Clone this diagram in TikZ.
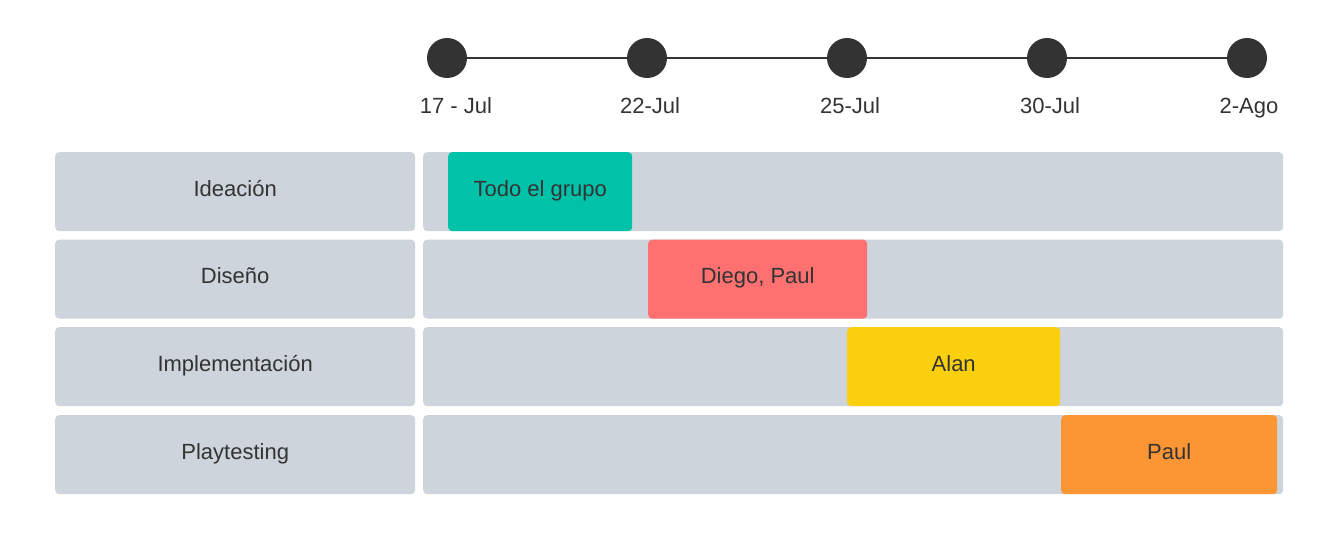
\documentclass[tikz,border=0pt]{standalone}
\usepackage{fontspec}
\setmainfont{Liberation Sans}
\definecolor{rowgray}{RGB}{206, 212, 219}
\definecolor{inkdark}{RGB}{51, 51, 51}
\definecolor{teamteal}{RGB}{0, 194, 168}
\definecolor{teamred}{RGB}{255, 113, 113}
\definecolor{teamyellow}{RGB}{250, 208, 14}
\definecolor{teamorange}{RGB}{252, 149, 51}
\usetikzlibrary{positioning}

\begin{document}
\begin{tikzpicture}[x=1pt, y=-1pt,
  every node/.style={font=\fontsize{22}{26}\selectfont, text=inkdark},
  milestone/.style={circle, fill=inkdark, minimum size=40pt, inner sep=0pt},
  datelabel/.style={anchor=base, inner sep=0pt},
  bar/.style={rounded corners=4pt, minimum height=79pt, inner sep=0pt, text height=12pt, text depth=3pt, anchor=north west},
  phase/.style={bar, fill=rowgray, minimum width=360pt},
  track/.style={bar, fill=rowgray, minimum width=860pt},
  task/.style={bar, fill=#1}]
  \useasboundingbox (0,0) rectangle (1335,554);

  % timeline
  \foreach \x/\name in {447/d1, 647/d2, 847/d3, 1047/d4, 1247/d5}
    \node[milestone] (\name) at (\x,58) {};
  \draw[inkdark, line width=2pt] (d1) -- (d2) (d2) -- (d3) (d3) -- (d4) (d4) -- (d5);
  \node[datelabel] (l1) at (456,113.5) {17 - Jul};
  \node[datelabel] (l2) at (650,113.5) {22-Jul};
  \node[datelabel] (l3) at (850,113.5) {25-Jul};
  \node[datelabel] (l4) at (1050,113.5) {30-Jul};
  \node[datelabel] (l5) at (1249,113.5) {2-Ago};

  % phases
  \node[phase] (ideacion) at (55,152) {Ideación};
  \node[phase] (diseno) at (55,239.5) {Diseño};
  \node[phase] (impl) at (55,327) {Implementación};
  \node[phase] (play) at (55,415) {Playtesting};

  \node[track] (t1) at (423,152) {};
  \node[track] (t2) at (423,239.5) {};
  \node[track] (t3) at (423,327) {};
  \node[track] (t4) at (423,415) {};

  % who does what
  \node[task=teamteal, minimum width=184pt] (grupo) at (448,152) {Todo el grupo};
  \node[task=teamred, minimum width=219pt] (diego) at (648,239.5) {Diego, Paul};
  \node[task=teamyellow, minimum width=213pt] (alan) at (847,327) {Alan};
  \node[task=teamorange, minimum width=216pt] (paul) at (1061,415) {Paul};
\end{tikzpicture}
\end{document}
